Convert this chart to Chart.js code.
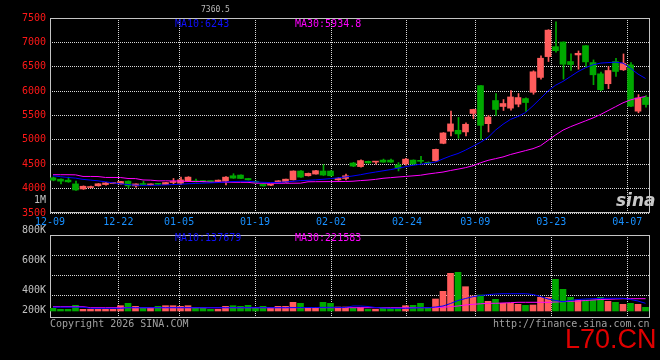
<!DOCTYPE html>
<html>
<head>
<meta charset="utf-8">
<script src="https://cdn.jsdelivr.net/npm/chart.js@4.4.0/dist/chart.umd.min.js"></script>
<style>
body { margin: 0; background: #000; width: 660px; height: 360px; overflow: hidden; position: relative; font-family: "DejaVu Sans Mono", monospace; font-size: 10px; }
canvas { position: absolute; left: 0; }
.txt { position: absolute; white-space: nowrap; line-height: 12px; }
</style>
</head>
<body>
<canvas id="priceChart" width="660" height="230" style="top:0"></canvas>
<canvas id="volChart" width="660" height="170" style="top:190px"></canvas>

<div class="txt" style="left:201px;top:4px;color:#bbb;font-size:8px">7360.5</div>
<div class="txt" style="left:175px;top:18px;color:#1010ff">MA10:6243</div>
<div class="txt" style="left:295px;top:18px;color:#ff00ff">MA30:5934.8</div>
<div class="txt" style="left:175px;top:232px;color:#1010ff">MA10:137679</div>
<div class="txt" style="left:295px;top:232px;color:#ff00ff">MA30:221583</div>
<div class="txt" style="left:50px;top:318px;color:#a0a0a0">Copyright 2026 SINA.COM</div>
<div class="txt" style="left:493px;top:318px;color:#a0a0a0">http://finance.sina.com.cn</div>
<div class="txt" style="left:616px;top:192px;color:#c8c8c8;font:italic bold 17px 'DejaVu Sans';line-height:17px">sina</div>
<div class="txt" style="left:565px;top:326px;color:#e00000;font:27px 'Liberation Sans';line-height:27px">L70.CN</div>

<script>
// 80 trading days, 12-09 .. 04-10
const SLOTS = 80;
const tickDates = ['12-09', '12-22', '01-05', '01-19', '02-02', '02-24', '03-09', '03-23', '04-07'];
const tickSlots = [0, 9, 17, 27, 37, 47, 56, 66, 76];
const priceTicks = [3500, 4000, 4500, 5000, 5500, 6000, 6500, 7000, 7500];

const volGridTicks = [160000, 360000, 560000];
const volLabelTicks = [1110000, 810000, 510000, 210000, 10000];
const volLabels = ['1M', '800K', '600K', '400K', '200K'];

const opens = [4222, 4194, 4174, 4097, 3993, 4022, 4058, 4083, 4105, 4097,
    4153, 4056, 4104, 4076, 4097, 4083, 4125, 4111, 4153, 4160,
    4167, 4158, 4146, 4153, 4264, 4278, 4208, 4150, 4090, 4070,
    4132, 4132, 4180, 4361, 4264, 4299, 4361, 4361, 4180, 4208,
    4525, 4452, 4560, 4544, 4585, 4585, 4486, 4510, 4585, 4570,
    4537, 4571, 4929, 5177, 5197, 5163, 5542, 6112, 5332, 5807,
    5685, 5651, 5732, 5847, 5976, 6281, 6708, 6912, 7007, 6607,
    6742, 6932, 6586, 6355, 6152, 6607, 6437, 6539, 5589, 5874];
const closes = [4174, 4153, 4139, 3972, 4049, 4042, 4100, 4118, 4120, 4146,
    4056, 4097, 4083, 4097, 4088, 4125, 4146, 4180, 4236, 4139,
    4139, 4144, 4174, 4236, 4215, 4208, 4180, 4130, 4056, 4080,
    4160, 4194, 4361, 4236, 4313, 4368, 4278, 4264, 4208, 4264,
    4462, 4575, 4527, 4558, 4544, 4544, 4418, 4605, 4503, 4560,
    4517, 4805, 5142, 5328, 5122, 5320, 5624, 5298, 5468, 5624,
    5746, 5881, 5868, 5766, 6397, 6675, 7251, 6830, 6552, 6545,
    6776, 6600, 6335, 6030, 6423, 6403, 6573, 5690, 5860, 5725];
const highs = [4240, 4200, 4236, 4153, 4056, 4050, 4104, 4130, 4125, 4150,
    4160, 4100, 4153, 4100, 4100, 4130, 4208, 4236, 4245, 4194,
    4170, 4162, 4178, 4245, 4306, 4282, 4212, 4160, 4095, 4090,
    4165, 4198, 4365, 4368, 4320, 4375, 4493, 4368, 4230, 4299,
    4540, 4590, 4565, 4562, 4606, 4606, 4534, 4620, 4590, 4660,
    4550, 4810, 5150, 5590, 5460, 5350, 5630, 6115, 5500, 5950,
    5827, 6010, 5950, 5860, 6417, 6722, 7260, 7420, 7010, 6763,
    6824, 6935, 6640, 6390, 6505, 6674, 6763, 6586, 5928, 5908];
const lows = [4160, 4097, 4130, 3965, 3985, 4015, 4050, 4070, 4100, 4090,
    4010, 4030, 4080, 4070, 4080, 4080, 4083, 4083, 4150, 4135,
    4135, 4140, 4142, 4076, 4210, 4205, 4175, 4125, 4050, 4060,
    4128, 4128, 4176, 4230, 4258, 4295, 4270, 4258, 4170, 4180,
    4450, 4440, 4520, 4503, 4540, 4540, 4363, 4480, 4500, 4516,
    4512, 4565, 4920, 5080, 5032, 5080, 5434, 5014, 5163, 5500,
    5603, 5610, 5678, 5583, 5936, 6247, 6607, 6797, 6247, 6423,
    6450, 6501, 6132, 6010, 6050, 6301, 6423, 5680, 5555, 5670];

const ma10 = [4265, 4245, 4230, 4215, 4190, 4175, 4160, 4140, 4118, 4100,
    4083, 4070, 4068, 4068, 4070, 4076, 4083, 4090, 4100, 4106,
    4112, 4118, 4125, 4135, 4145, 4150, 4150, 4140, 4130, 4125,
    4128, 4137, 4150, 4164, 4170, 4180, 4192, 4205, 4222, 4240,
    4260, 4285, 4315, 4340, 4365, 4390, 4420, 4450, 4480, 4500,
    4520, 4545, 4610, 4670, 4720, 4790, 4870, 4950, 5050, 5200,
    5320, 5420, 5480, 5560, 5700, 5850, 6000, 6120, 6200, 6300,
    6400, 6480, 6540, 6575, 6585, 6593, 6575, 6470, 6350, 6260];
const ma30 = [4285, 4285, 4285, 4283, 4250, 4250, 4248, 4229, 4229, 4228,
    4208, 4206, 4178, 4174, 4160, 4160, 4158, 4156, 4146, 4146,
    4145, 4132, 4132, 4132, 4131, 4130, 4129, 4112, 4111, 4110,
    4110, 4110, 4111, 4112, 4140, 4142, 4143, 4144, 4145, 4146,
    4152, 4165, 4175, 4190, 4212, 4225, 4238, 4250, 4262, 4275,
    4300, 4320, 4340, 4372, 4400, 4430, 4470, 4530, 4580, 4615,
    4650, 4700, 4740, 4780, 4820, 4880, 4990, 5100, 5200, 5270,
    5330, 5390, 5450, 5520, 5600, 5680, 5760, 5820, 5860, 5890];

const vols = [27000, 17000, 17000, 57000, 17000, 17000, 17000, 17000, 17000, 53000,
    77000, 47000, 27000, 27000, 47000, 53000, 53000, 47000, 53000, 27000,
    27000, 17000, 17000, 47000, 53000, 47000, 57000, 27000, 47000, 27000,
    47000, 47000, 87000, 77000, 27000, 27000, 87000, 77000, 40000, 40000,
    27000, 33000, 17000, 17000, 27000, 27000, 27000, 53000, 57000, 77000,
    33000, 120000, 197000, 377000, 387000, 243000, 150000, 160000, 97000, 117000,
    77000, 77000, 67000, 57000, 60000, 137000, 137000, 317000, 217000, 137000,
    110000, 110000, 110000, 137000, 97000, 87000, 67000, 77000, 67000, 37000];
const volMa10 = [38000, 38000, 38000, 38000, 38000, 27000, 27000, 27000, 27000, 27000,
    33000, 33000, 33000, 33000, 33000, 33000, 33000, 33000, 33000, 33000,
    33000, 33000, 33000, 33000, 33000, 33000, 33000, 33000, 33000, 33000,
    33000, 33000, 34000, 35000, 35000, 35000, 36000, 37000, 36000, 36000,
    50000, 50000, 45000, 35000, 30000, 27000, 27000, 27000, 30000, 33000,
    33000, 40000, 50000, 75000, 105000, 125000, 143000, 155000, 163000, 170000,
    173000, 173000, 173000, 173000, 165000, 145000, 120000, 105000, 93000, 105000,
    115000, 120000, 123000, 127000, 127000, 127000, 127000, 115000, 100000, 77000];
const volMa30 = [43000, 43000, 43000, 43000, 43000, 33000, 33000, 33000, 33000, 33000,
    33000, 33000, 33000, 33000, 33000, 33000, 33000, 33000, 33000, 33000,
    33000, 33000, 33000, 33000, 33000, 33000, 33000, 33000, 33000, 33000,
    33000, 33000, 33000, 33000, 33000, 33000, 33000, 33000, 33000, 33000,
    33000, 33000, 33000, 33000, 33000, 33000, 33000, 33000, 33000, 33000,
    33000, 35000, 38000, 43000, 50000, 60000, 67000, 72000, 77000, 77000,
    80000, 83000, 87000, 87000, 87000, 87000, 87000, 90000, 93000, 97000,
    100000, 105000, 110000, 115000, 117000, 120000, 123000, 123000, 123000, 123000];

const RED = '#ff5c5c';
const GREEN = '#00a800';
const GRID = '#d8d8d8';
const FRAME = '#c4c4c4';
const FONT = { family: 'DejaVu Sans Mono', size: 10 };

const candleColors = opens.map((o, i) => closes[i] >= o ? RED : GREEN);
const slotX = i => i + 0.4;

// sina spaces its date grid over SLOTS-1 steps
function dateTicks(scale) {
    scale.ticks = tickSlots.map(s => ({ value: s * SLOTS / (SLOTS - 1) }));
}

const framePlugin = {
    id: 'frame',
    beforeDatasetsDraw(chart) {
        const { ctx, chartArea: a } = chart;
        ctx.save();
        ctx.strokeStyle = FRAME;
        ctx.lineWidth = 1;
        ctx.strokeRect(Math.round(a.left) + 0.5, Math.round(a.top) + 0.5,
            Math.round(a.right - a.left) - 1, Math.round(a.bottom - a.top) - 1);
        ctx.restore();
    }
};

function lineSet(values, color) {
    return {
        type: 'line',
        data: values.map((v, i) => ({ x: slotX(i), y: v })),
        borderColor: color,
        borderWidth: 1,
        pointRadius: 0,
        tension: 0,
        order: 0
    };
}

new Chart(document.getElementById('priceChart'), {
    type: 'bar',
    data: {
        datasets: [
            {
                data: opens.map((o, i) => ({ x: slotX(i) + 0.5 / 7.5, y: [lows[i], highs[i]] })),
                backgroundColor: candleColors,
                barThickness: 1,
                grouped: false,
                order: 2
            },
            {
                data: opens.map((o, i) => ({ x: slotX(i), y: [o, closes[i]] })),
                backgroundColor: candleColors,
                barThickness: 6,
                minBarLength: 1,
                grouped: false,
                order: 1
            },
            lineSet(ma10, '#0000ff'),
            lineSet(ma30, '#ff00ff')
        ]
    },
    options: {
        responsive: false,
        animation: false,
        layout: { padding: { top: 18, right: 10, bottom: 0, left: 0 } },
        plugins: { legend: { display: false }, tooltip: { enabled: false } },
        scales: {
            x: {
                type: 'linear',
                min: 0,
                max: SLOTS,
                offset: false,
                afterBuildTicks: dateTicks,
                afterFit: s => { s.height = 17; },
                grid: { color: GRID, drawTicks: false, offset: false },
                border: { display: false, dash: [1, 1] },
                ticks: {
                    color: '#1890ff',
                    font: FONT,
                    padding: 3,
                    maxRotation: 0,
                    autoSkip: false,
                    callback: (v, idx) => tickDates[idx]
                }
            },
            y: {
                min: 3500,
                max: 7500,
                afterBuildTicks: s => { s.ticks = priceTicks.map(v => ({ value: v })); },
                afterFit: s => { s.width = 50; },
                grid: { color: GRID, drawTicks: false },
                border: { display: false, dash: [1, 1] },
                ticks: {
                    color: '#ff1818',
                    font: FONT,
                    padding: 4,
                    autoSkip: false,
                    callback: v => String(v)
                }
            }
        }
    },
    plugins: [framePlugin]
});

new Chart(document.getElementById('volChart'), {
    type: 'bar',
    data: {
        datasets: [
            {
                data: vols.map((v, i) => ({ x: slotX(i), y: v })),
                backgroundColor: candleColors,
                barThickness: 6,
                grouped: false,
                order: 1
            },
            lineSet(volMa10, '#0000ff'),
            lineSet(volMa30, '#ff00ff')
        ]
    },
    options: {
        responsive: false,
        animation: false,
        layout: { padding: { top: 45, right: 10, bottom: 0, left: 0 } },
        plugins: { legend: { display: false }, tooltip: { enabled: false } },
        scales: {
            x: {
                type: 'linear',
                min: 0,
                max: SLOTS,
                offset: false,
                afterBuildTicks: dateTicks,
                afterFit: s => { s.height = 42; },
                grid: { color: GRID, drawTicks: false, offset: false },
                border: { display: false, dash: [1, 1] },
                ticks: { display: false }
            },
            y: {
                min: -70000,
                max: 760000,
                afterBuildTicks: s => {
                    s.ticks = volGridTicks.concat(volLabelTicks).map(v => ({ value: v }));
                },
                afterFit: s => { s.width = 50; },
                grid: {
                    drawTicks: false,
                    color: c => volGridTicks.includes(c.tick && c.tick.value) ? GRID : 'rgba(0,0,0,0)'
                },
                border: { display: false, dash: [1, 1] },
                ticks: {
                    color: '#c0c0c0',
                    font: FONT,
                    padding: 4,
                    autoSkip: false,
                    callback: v => {
                        const k = volLabelTicks.indexOf(v);
                        return k >= 0 ? volLabels[k] : '';
                    }
                }
            }
        }
    },
    plugins: [framePlugin]
});
</script>
</body>
</html>
